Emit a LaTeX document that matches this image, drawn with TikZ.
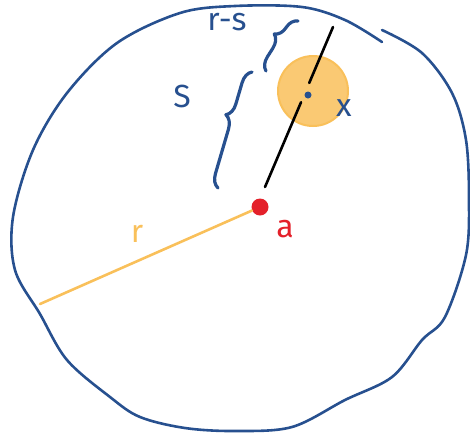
\documentclass[tikz,border=0pt]{standalone}
\usepackage{amsmath}
\usepackage{fontspec}
\setsansfont{Fira Sans}
\usetikzlibrary{decorations.pathreplacing,calc}
\definecolor{penblue}{HTML}{27508F}
\definecolor{penyellow}{HTML}{F9C05A}
\definecolor{penred}{HTML}{E4202A}
\begin{document}
\begin{tikzpicture}[x=1pt,y=-1pt]
\tikzstyle{every node}=[font=\sffamily\fontsize{32}{32}\selectfont]
\tikzstyle{ink}=[line width=2.6pt,line cap=round,line join=round]
\tikzstyle{bracepen}=[ink,line width=3.2pt,penblue,decorate,decoration={brace,amplitude=13pt,aspect=0.6}]
\useasboundingbox (0,0) rectangle (470,437);

% outer boundary
\draw[ink,penblue] plot[smooth,tension=0.55] coordinates {
(382,30) (422,53) (452,93) (466,140) (469,200) (466,255) (445,317)
(422,340) (392,377) (345,400) (292,427) (235,431) (185,428) (140,417)
(110,397) (67,360) (40,314) (15,270) (13,217) (33,150) (67,93)
(117,43) (180,13) (235,6) (302,7) (345,20) (382,42)};

% the small disc
\node[draw=penyellow,fill=penyellow!85,line width=2pt,circle,minimum size=70pt,inner sep=0pt] (disc) at (313,91) {};
\node[fill=penblue,circle,inner sep=0pt,minimum size=7pt] (x) at (308,95) {};
\node[penblue] (xlab) at (344,108) {x};

% centre point
\node[fill=penred,circle,inner sep=0pt,minimum size=17pt] (a) at (260,207) {};
\node[penred] (alab) at (285,229) {a};

% radius
\coordinate (rim) at (40,304);
\draw[ink,penyellow] (a) -- (rim);
\node[penyellow] (rlab) at (137,234) {r};

% line through x
\coordinate (top) at (333,27);
\coordinate (bot) at (265,187);
\draw[ink,black] (bot) -- ($(bot)!0.53!(top)$);
\draw[ink,black] ($(bot)!0.65!(top)$) -- (top);

% braces
\coordinate (sb) at (218,188);
\coordinate (st) at (252,72);
\draw[bracepen] (sb) -- (st);
\node[penblue] (slab) at (182,96) {S};
\coordinate (rb) at (266,71);
\coordinate (rt) at (298,21);
\draw[bracepen] (rb) -- (rt);
\node[penblue] (rslab) at (227,22) {r-s};
\end{tikzpicture}
\end{document}
